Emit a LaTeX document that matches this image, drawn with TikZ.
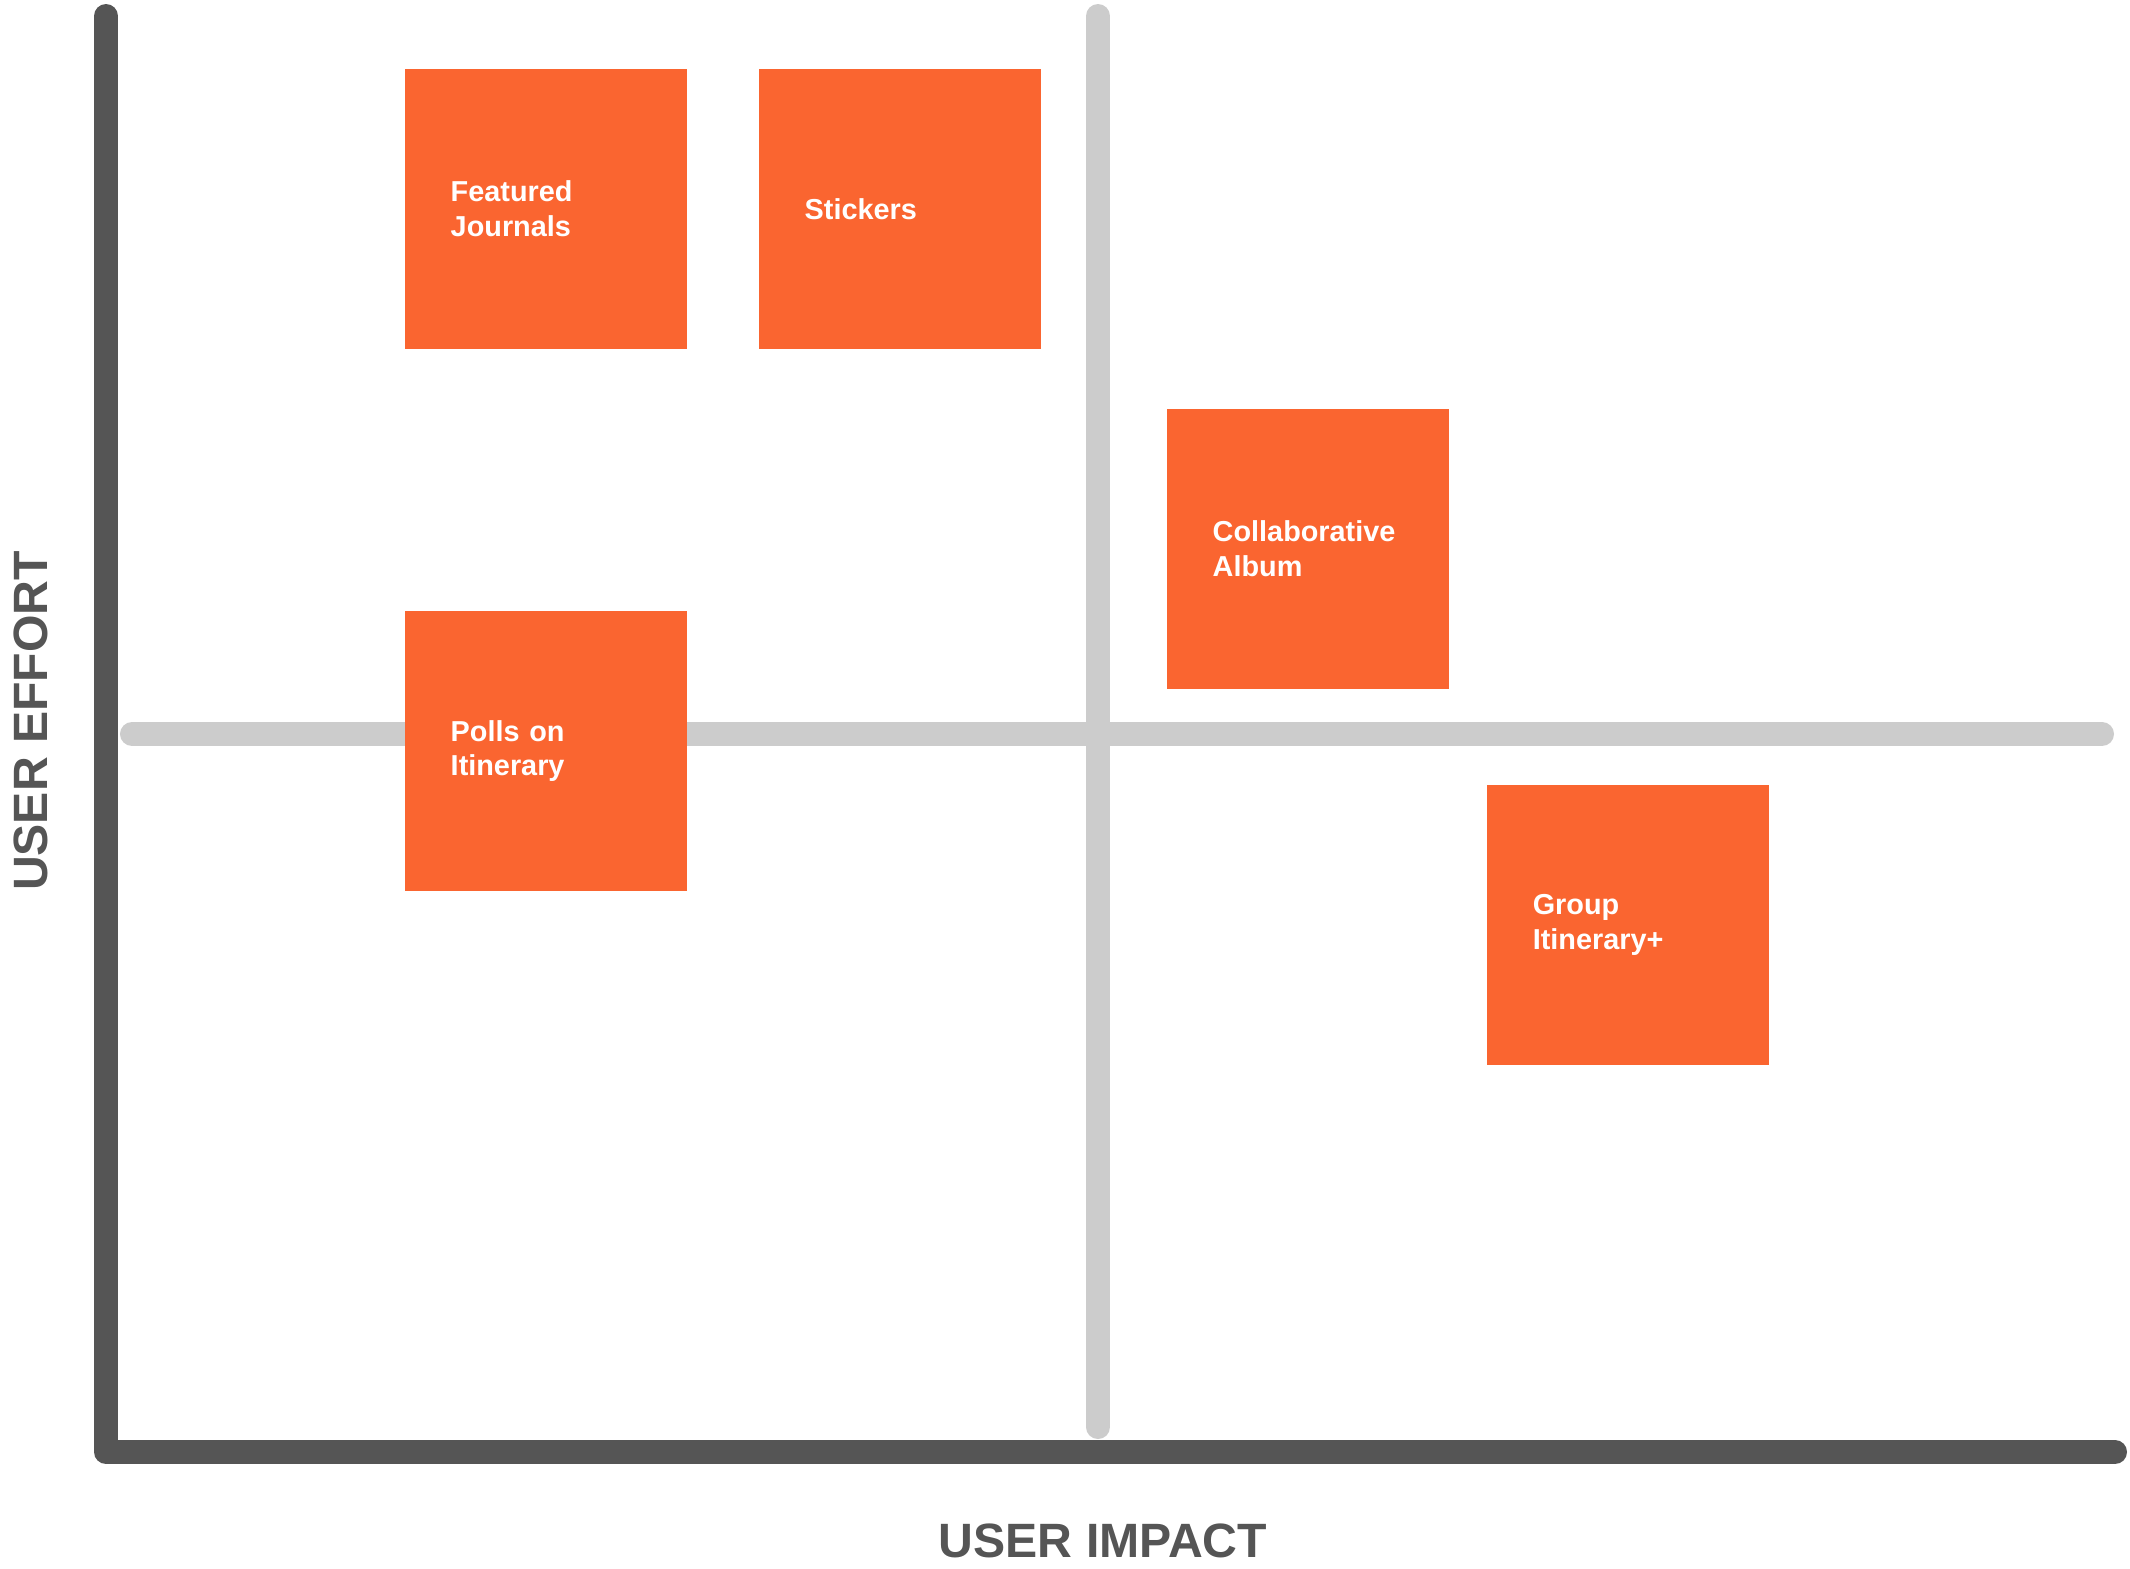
\documentclass[tikz,border=0pt]{standalone}
\usepackage{fontspec}
\setmainfont{Liberation Sans}
\definecolor{tangerine}{RGB}{250, 101, 48}
\definecolor{axisgray}{RGB}{85, 85, 85}
\definecolor{midgray}{RGB}{204, 204, 204}
\tikzset{%
    axis/.style={draw=axisgray, line width=0.24cm, line cap=round, line join=round},
    divider/.style={draw=midgray, line width=0.24cm, line cap=round},
    sticky/.style={fill=tangerine, text=white, anchor=north west,
        minimum width=2.82cm, minimum height=2.8cm, inner xsep=0.46cm,
        text width=1.9cm, align=left,
        font=\fontsize{8.2}{9.8}\selectfont\bfseries},
    axislabel/.style={text=axisgray, font=\fontsize{13.7}{16}\selectfont\bfseries}
}

\begin{document}
\begin{tikzpicture}[x=0.01cm, y=-0.01cm]

    \useasboundingbox (0, 0) rectangle (2130, 1568);

    % Quadrant dividers
    \coordinate (divtop) at (1098, 16);
    \coordinate (divbottom) at (1098, 1427);
    \coordinate (divleft) at (132, 734);
    \coordinate (divright) at (2102, 734);
    \draw[divider] (divtop) -- (divbottom);
    \draw[divider] (divleft) -- (divright);

    % Axes
    \coordinate (ytop) at (106, 16);
    \coordinate (origin) at (106, 1452);
    \coordinate (xend) at (2115, 1452);
    \draw[axis] (ytop) -- (origin) -- (xend);

    % Features
    \node[sticky] (journals) at (404, 68) {Featured\\Journals};
    \node[sticky] (stickers) at (758, 68) {Stickers};
    \node[sticky] (album) at (1166, 408) {Collaborative\\Album};
    \node[sticky] (polls) at (404, 610) {Polls on\\Itinerary};
    \node[sticky] (group) at (1486, 784) {Group\\Itinerary+};

    % Axis labels
    \node[axislabel, rotate=90] (effort) at (31, 721) {USER EFFORT};
    \node[axislabel] (impact) at (1103, 1541) {USER IMPACT};

\end{tikzpicture}
\end{document}
